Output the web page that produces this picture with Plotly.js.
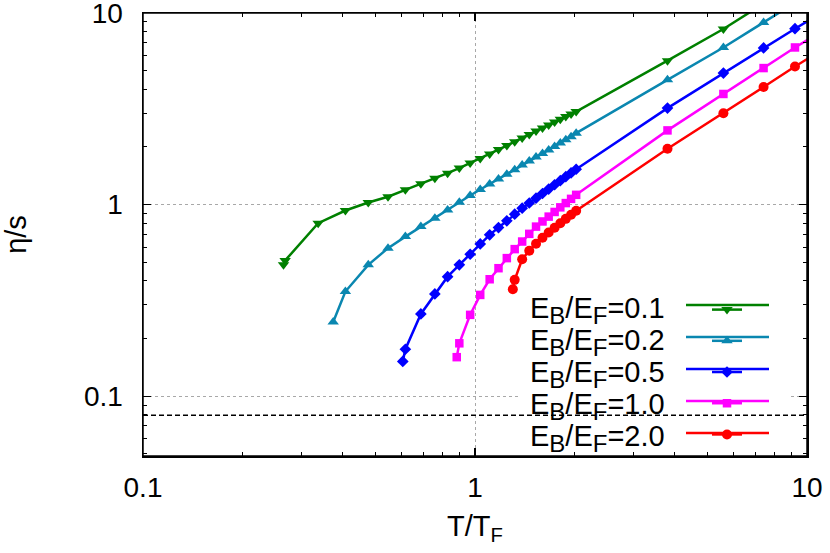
<!DOCTYPE html>
<html>
<head>
<meta charset="utf-8">
<script src="https://cdn.plot.ly/plotly-3.0.1.min.js"></script>
<style>html,body{margin:0;padding:0;background:#fff;}#chart{width:830px;height:553px;}</style>
</head>
<body>
<div id="chart"></div>
<script>
// ---- data (T/T_F vs eta/s) ----
var seriesLabels = ['E<sub>B</sub>/E<sub>F</sub>=0.1', 'E<sub>B</sub>/E<sub>F</sub>=0.2', 'E<sub>B</sub>/E<sub>F</sub>=0.5', 'E<sub>B</sub>/E<sub>F</sub>=1.0', 'E<sub>B</sub>/E<sub>F</sub>=2.0'];

var xEB01 = [0.265, 0.268, 0.337, 0.407, 0.477, 0.547, 0.617, 0.687, 0.757, 0.827, 0.897, 0.967, 1.037, 1.107, 1.177, 1.247, 1.317, 1.387, 1.457, 1.527, 1.597, 1.667, 1.737, 1.807, 1.877, 1.947, 2.017, 3.8, 5.6, 7.4];
var yEB01 = [0.485, 0.511, 0.80, 0.932, 1.026, 1.10, 1.195, 1.284, 1.375, 1.46, 1.551, 1.647, 1.74, 1.84, 1.94, 2.035, 2.13, 2.23, 2.32, 2.42, 2.51, 2.60, 2.70, 2.79, 2.88, 2.97, 3.06, 5.64, 8.25, 11.2];

var xEB02 = [0.374, 0.407, 0.477, 0.547, 0.617, 0.687, 0.757, 0.827, 0.897, 0.967, 1.037, 1.107, 1.177, 1.247, 1.317, 1.387, 1.457, 1.527, 1.597, 1.667, 1.737, 1.807, 1.877, 1.947, 2.017, 3.8, 5.6, 7.4, 9.2];
var yEB02 = [0.244, 0.352, 0.485, 0.593, 0.681, 0.768, 0.85, 0.939, 1.03, 1.116, 1.20, 1.28, 1.36, 1.44, 1.52, 1.61, 1.69, 1.77, 1.85, 1.93, 2.01, 2.10, 2.18, 2.26, 2.36, 4.48, 6.61, 8.93, 11.3];

var xEB05 = [0.606, 0.617, 0.687, 0.757, 0.827, 0.897, 0.967, 1.037, 1.107, 1.177, 1.247, 1.317, 1.387, 1.457, 1.527, 1.597, 1.667, 1.737, 1.807, 1.877, 1.947, 2.017, 3.8, 5.6, 7.4, 9.2, 11.0];
var yEB05 = [0.152, 0.176, 0.269, 0.342, 0.421, 0.485, 0.551, 0.624, 0.696, 0.759, 0.823, 0.892, 0.959, 1.02, 1.081, 1.143, 1.206, 1.27, 1.334, 1.399, 1.464, 1.53, 3.19, 4.86, 6.57, 8.28, 9.97];

var xEB10 = [0.881, 0.897, 0.967, 1.037, 1.107, 1.177, 1.247, 1.317, 1.387, 1.457, 1.527, 1.597, 1.667, 1.737, 1.807, 1.877, 1.947, 2.017, 3.8, 5.6, 7.4, 9.2, 11.0];
var yEB10 = [0.16, 0.189, 0.266, 0.338, 0.408, 0.466, 0.526, 0.586, 0.642, 0.704, 0.768, 0.817, 0.866, 0.916, 0.968, 1.019, 1.072, 1.125, 2.44, 3.78, 5.16, 6.61, 7.95];

var xEB20 = [1.30, 1.317, 1.387, 1.457, 1.527, 1.597, 1.667, 1.737, 1.807, 1.877, 1.947, 2.017, 3.8, 5.6, 7.4, 9.2, 11.0];
var yEB20 = [0.362, 0.405, 0.519, 0.575, 0.625, 0.672, 0.715, 0.758, 0.800, 0.843, 0.886, 0.93, 1.956, 3.0, 4.11, 5.26, 6.35];

var kssBound = 1 / (4 * Math.PI);     // dashed line eta/s = 1/(4 pi)
var xLimits = [0.1, 10];

var colors = ['#008000', '#0a87b0', '#0000ff', '#ff00ff', '#ff0000'];
var symbols = ['triangle-down', 'triangle-up', 'diamond', 'square', 'circle'];
var msizes = [10, 10, 9, 8.5, 10];

var xs = [xEB01, xEB02, xEB05, xEB10, xEB20];
var ys = [yEB01, yEB02, yEB05, yEB10, yEB20];

var font = 'Liberation Sans, Arial, Helvetica, sans-serif';
var xRange = [-1, 1];
var yRange = [Math.log10(0.0488), 1];

var traces = [];
traces.push({
  x: xLimits, y: [kssBound, kssBound], mode: 'lines', showlegend: false, hoverinfo: 'skip',
  line: {color: '#000', width: 1.5, dash: '5px,3px'}
});
for (var i = 0; i < xs.length; i++) {
  traces.push({
    x: xs[i], y: ys[i], mode: 'lines+markers', name: '',
    line: {color: colors[i], width: 2.5},
    marker: {symbol: symbols[i], size: msizes[i], color: colors[i]}
  });
}

function subLabel(s) {
  // reference subscripts are ~0.8 of the text size
  return s.replace(/<sub>(.*?)<\/sub>/g, '<sub><span style="font-size:24px">$1</span></sub>');
}
// convert a fraction of the plot area into a log-axis data value
function fracToData(f, r) { return Math.pow(10, r[0] + f * (r[1] - r[0])); }

// legend: text left of the key, long key lines (as in the reference)
var rowPx = [305, 337, 369, 401, 433];
var annotations = [];
var shapes = [
  { // opaque key box: hides the grid behind the legend (between grid and traces)
    type: 'rect', xref: 'x', yref: 'y', layer: 'between',
    x0: fracToData((520 - 143) / 664, xRange), x1: fracToData((788 - 143) / 664, xRange),
    y0: fracToData((456 - 448) / 443, yRange), y1: fracToData((456 - 300) / 443, yRange),
    fillcolor: '#fff', line: {width: 0}
  },
  {
    type: 'rect', xref: 'paper', yref: 'paper', x0: 0, x1: 1, y0: 0, y1: 1,
    line: {color: '#000', width: 1.5}, fillcolor: 'rgba(0,0,0,0)', layer: 'above'
  }
];
for (var k = 0; k < seriesLabels.length; k++) {
  annotations.push({
    xref: 'paper', yref: 'paper', x: (667 - 143) / 664, y: (456 - rowPx[k] - 5) / 443,
    xanchor: 'right', yanchor: 'middle', showarrow: false, text: subLabel(seriesLabels[k]),
    font: {family: font, size: 29, color: '#000'}
  });
  shapes.push({
    type: 'line', xref: 'paper', yref: 'paper',
    x0: (686 - 143) / 664, x1: (769 - 143) / 664,
    y0: (456 - rowPx[k]) / 443, y1: (456 - rowPx[k]) / 443,
    line: {color: colors[k], width: 2.5}
  });
}

function makeAxis(extra) {
  var a = {
    type: 'log', showline: true, linecolor: '#000', linewidth: 1.5, mirror: 'allticks',
    ticks: 'inside', ticklen: 8, tickwidth: 1.2, tickcolor: '#000', dtick: 1,
    showgrid: true, gridcolor: '#a8a8a8', gridwidth: 1, griddash: 'dot', zeroline: false,
    ticklabeloverflow: 'allow',
    minor: {ticks: 'inside', ticklen: 4, tickwidth: 1, tickcolor: '#000', dtick: 'D1', showgrid: false},
    tickfont: {family: font, size: 28, color: '#000'}
  };
  for (var key in extra) a[key] = extra[key];
  return a;
}

var layout = {
  width: 830, height: 553,
  margin: {l: 143, r: 23, t: 13, b: 97},
  paper_bgcolor: '#fff', plot_bgcolor: '#fff',
  font: {family: font, color: '#000'},
  xaxis: makeAxis({
    range: xRange, ticklabelstandoff: 6,
    title: {text: 'T/T<sub>F</sub>', font: {family: font, size: 29}, standoff: 13}
  }),
  yaxis: makeAxis({
    range: yRange, ticklabelstandoff: 13,
    title: {text: '\u03b7/s', font: {family: font, size: 29}, standoff: 51}
  }),
  showlegend: true,
  legend: {
    x: (707 - 143) / 664, xanchor: 'left', y: (456 - 289) / 443, yanchor: 'top',
    bgcolor: 'rgba(0,0,0,0)', borderwidth: 0, font: {family: font, size: 21.7},
    tracegroupgap: 0
  },
  shapes: shapes,
  annotations: annotations
};

Plotly.newPlot('chart', traces, layout, {displayModeBar: false, staticPlot: true});
</script>
</body>
</html>
